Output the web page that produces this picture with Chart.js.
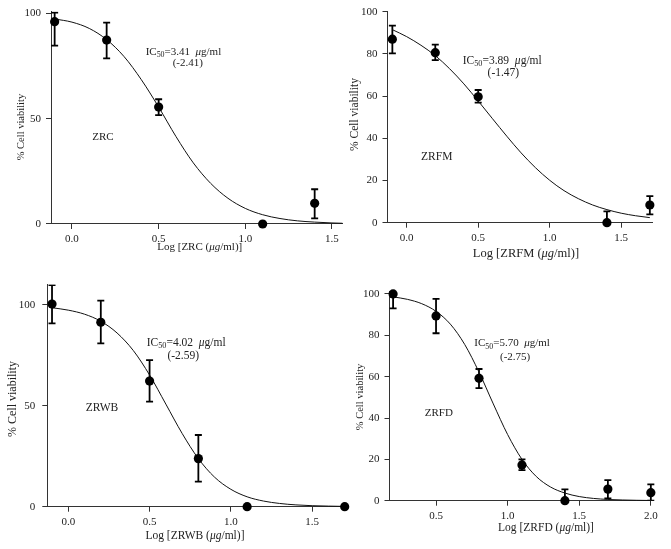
<!DOCTYPE html>
<html>
<head>
<meta charset="utf-8">
<script src="https://cdn.jsdelivr.net/npm/chart.js@4.4.1/dist/chart.umd.min.js"></script>
<style>
  html, body { margin: 0; padding: 0; background: #fff; }
  #wrap { position: relative; width: 671px; height: 549px; }
  #wrap canvas { position: absolute; left: 0; top: 0; }
</style>
</head>
<body>
<div id="wrap">
  <canvas id="zrc" width="671" height="549"></canvas>
  <canvas id="zrfm" width="671" height="549"></canvas>
  <canvas id="zrwb" width="671" height="549"></canvas>
  <canvas id="zrfd" width="671" height="549"></canvas>
</div>
<script>
// ---- data ----
// ZRC
var zrcX  = [-0.1, 0.2, 0.5, 1.1, 1.4];
var zrcY  = [96, 87.3, 55.5, 0, 9.8];
var zrcHi = [100.3, 95.6, 59.2, 0, 16.5];
var zrcLo = [84.7, 78.6, 51.7, 0, 2.7];
var zrcFitX = [-0.1, 0, 0.1, 0.2, 0.3, 0.4, 0.5, 0.6, 0.7, 0.8, 0.9, 1.0, 1.1, 1.2, 1.3, 1.4, 1.5, 1.56];
var zrcFitY = [97.3, 95.8, 92.8, 87.5, 79.5, 68.5, 55.5, 41.5, 29, 19.3, 12.2, 7.4, 4.4, 2.6, 1.5, 0.9, 0.5, 0.35];
var zrcIc = '3.41', zrcHill = '(-2.41)';

// ZRFM
var zrfmX  = [-0.1, 0.2, 0.5, 1.4, 1.7];
var zrfmY  = [87, 80.6, 59.7, 0, 8.4];
var zrfmHi = [93.4, 84.4, 62.9, 5.4, 12.6];
var zrfmLo = [80.3, 77.1, 56.9, -5.4, 3.9];
var zrfmFitX = [-0.1, 0, 0.1, 0.2, 0.3, 0.4, 0.5, 0.6, 0.7, 0.8, 0.9, 1.0, 1.1, 1.2, 1.3, 1.4, 1.5, 1.6, 1.7];
var zrfmFitY = [91.5, 88.2, 84.1, 79.2, 73, 65.8, 57.7, 49.3, 41, 33.1, 26.1, 20.1, 15.2, 11.4, 8.4, 6.2, 4.5, 3.3, 2.4];
var zrfmIc = '3.89', zrfmHill = '(-1.47)';

// ZRWB
var zrwbX  = [-0.1, 0.2, 0.5, 0.8, 1.1, 1.7];
var zrwbY  = [100.3, 91.3, 62.2, 23.8, 0, 0];
var zrwbHi = [109.7, 102, 72.6, 35.5, 0, 0];
var zrwbLo = [90.8, 80.9, 52, 12.4, 0, 0];
var zrwbFitX = [-0.1, 0, 0.1, 0.2, 0.3, 0.4, 0.5, 0.6, 0.7, 0.8, 0.9, 1.0, 1.1, 1.2, 1.3, 1.4, 1.5, 1.6, 1.7];
var zrwbFitY = [98.5, 97.3, 95.3, 91.8, 86, 77.3, 65.2, 50.8, 36.3, 23.8, 14.6, 8.6, 4.9, 2.8, 1.6, 0.9, 0.5, 0.3, 0.15];
var zrwbIc = '4.02', zrwbHill = '(-2.59)';

// ZRFD
var zrfdX  = [0.2, 0.5, 0.8, 1.1, 1.4, 1.7, 2.0];
var zrfdY  = [100, 89.4, 59.2, 17.3, 0, 5.6, 3.9];
var zrfdHi = [107, 97.6, 63.7, 20, 5.5, 10, 7.9];
var zrfdLo = [93, 81, 54.5, 14.8, -5.5, 1.1, 0];
var zrfdFitX = [0.2, 0.3, 0.4, 0.5, 0.6, 0.7, 0.8, 0.9, 1.0, 1.1, 1.2, 1.3, 1.4, 1.5, 1.6, 1.7, 1.8, 1.9, 2.0];
var zrfdFitY = [98.6, 97.4, 95.3, 91.6, 85.4, 75.6, 62.2, 46.8, 32, 20, 11.7, 6.6, 3.7, 2, 1.1, 0.6, 0.35, 0.2, 0.1];
var zrfdIc = '5.70', zrfdHill = '(-2.75)';

var xTicksA = [0, 0.5, 1.0, 1.5];
var xTicksB = [0.5, 1.0, 1.5, 2.0];
var yTicks50 = [0, 50, 100];
var yTicks20 = [0, 20, 40, 60, 80, 100];

// ---- drawing ----
var FAM = "'Liberation Serif', 'Times New Roman', serif";
var INK = '#222';

function rich(ctx, segs, x, y, size, align, rot) {
  function font(s) {
    return (s === 'i' ? 'italic ' : '') + (s === 'sub' ? size * 0.72 : size) + 'px ' + FAM;
  }
  var w = 0;
  segs.forEach(function (sg) { ctx.font = font(sg[1]); w += ctx.measureText(sg[0]).width; });
  ctx.save();
  ctx.translate(x, y);
  if (rot) ctx.rotate(rot);
  ctx.fillStyle = INK;
  ctx.textBaseline = 'middle';
  ctx.textAlign = 'left';
  var cx = align === 'center' ? -w / 2 : 0;
  segs.forEach(function (sg) {
    ctx.font = font(sg[1]);
    ctx.fillText(sg[0], cx, sg[1] === 'sub' ? size * 0.3 : 0);
    cx += ctx.measureText(sg[0]).width;
  });
  ctx.restore();
}

function makePanel(id, p) {
  var Wy = 40, Hx = 30;
  var pts = p.x.map(function (v, i) { return { x: v, y: p.y[i] }; });
  var fit = p.fitX.map(function (v, i) { return { x: v, y: p.fitY[i] }; });

  var extras = {
    id: 'extras_' + id,
    beforeDatasetsDraw: function (chart) {
      var ctx = chart.ctx, xs = chart.scales.x, ys = chart.scales.y, a = chart.chartArea;
      ctx.save();
      ctx.beginPath();
      ctx.rect(a.left - 10, a.top, a.right - a.left + 20, a.bottom - a.top);
      ctx.clip();
      ctx.strokeStyle = '#000';
      ctx.lineWidth = 1.8;
      p.x.forEach(function (v, i) {
        if (p.hi[i] === p.lo[i]) return;
        var px = xs.getPixelForValue(v);
        var y1 = ys.getPixelForValue(p.hi[i]), y2 = ys.getPixelForValue(p.lo[i]);
        ctx.beginPath();
        ctx.moveTo(px, y1); ctx.lineTo(px, y2);
        ctx.moveTo(px - 3.5, y1); ctx.lineTo(px + 3.5, y1);
        ctx.moveTo(px - 3.5, y2); ctx.lineTo(px + 3.5, y2);
        ctx.stroke();
      });
      ctx.restore();
    },
    afterDraw: function (chart) {
      var ctx = chart.ctx, xs = chart.scales.x, ys = chart.scales.y, a = chart.chartArea;
      rich(ctx, [['IC', ''], ['50', 'sub'], ['=' + p.ic + '  ', ''], ['\u03bc', 'i'], ['g/ml', '']],
        xs.getPixelForValue(p.icPos[0]), ys.getPixelForValue(p.icPos[1]), p.noteSize, 'left');
      rich(ctx, [[p.hill, '']],
        xs.getPixelForValue(p.hillPos[0]), ys.getPixelForValue(p.hillPos[1]), p.noteSize, 'center');
      rich(ctx, [[p.name, '']],
        xs.getPixelForValue(p.namePos[0]), ys.getPixelForValue(p.namePos[1]), p.noteSize, 'center');
      rich(ctx, [['Log [' + p.name + ' (', ''], ['\u03bcg', 'i'], ['/ml)]', '']],
        xs.getPixelForValue(p.xTitle[0]), a.bottom + p.xTitle[1], p.xTitleSize, 'center');
      rich(ctx, [['% Cell viability', '']],
        a.left - p.yTitle[0], ys.getPixelForValue(p.yTitle[1]), p.yTitleSize, 'center', -Math.PI / 2);
    }
  };

  function axis(min, max, ticks, fmt, pad, extra) {
    var o = {
      type: 'linear', min: min, max: max,
      afterBuildTicks: function (s) { s.ticks = ticks.map(function (v) { return { value: v }; }); },
      ticks: {
        autoSkip: false, maxRotation: 0, padding: pad, color: INK,
        font: { family: FAM, size: p.tickSize },
        callback: fmt
      },
      grid: { display: true, drawOnChartArea: false, drawTicks: true, tickLength: 5, color: '#333', lineWidth: 1 },
      border: { display: true, color: '#333', width: 1 }
    };
    for (var k in extra) o[k] = extra[k];
    return o;
  }

  new Chart(document.getElementById(id), {
    type: 'scatter',
    data: {
      datasets: [
        { data: pts, showLine: false, pointRadius: 4.6, pointHoverRadius: 4.6,
          pointBackgroundColor: '#000', pointBorderWidth: 0, clip: false },
        { data: fit, showLine: true, pointRadius: 0, borderColor: '#111', borderWidth: 1,
          cubicInterpolationMode: 'monotone', fill: false, clip: false }
      ]
    },
    options: {
      responsive: false,
      animation: false,
      events: [],
      layout: {
        autoPadding: false,
        padding: { left: p.area.l - Wy, right: 671 - p.area.r, top: p.area.t, bottom: 549 - p.area.b - Hx }
      },
      plugins: { legend: { display: false }, tooltip: { enabled: false } },
      scales: {
        x: axis(p.xMin, p.xMax, p.xTicks, function (v) { return Number(v).toFixed(1); }, p.xPad,
          { afterFit: function (s) { s.height = Hx; s.paddingLeft = 0; s.paddingRight = 0; } }),
        y: axis(0, p.yMax, p.yTicks, function (v) { return String(v); }, p.yPad,
          { afterFit: function (s) { s.width = Wy; s.paddingTop = 0; s.paddingBottom = 0; } })
      }
    },
    plugins: [extras]
  });
}

makePanel('zrc', {
  name: 'ZRC', x: zrcX, y: zrcY, hi: zrcHi, lo: zrcLo, fitX: zrcFitX, fitY: zrcFitY,
  ic: zrcIc, hill: zrcHill, xTicks: xTicksA, yTicks: yTicks50,
  xMin: -0.121, xMax: 1.56, yMax: 100.8,
  area: { l: 51, t: 11.6, r: 342.4, b: 224 },
  icPos: [0.425, 81.7], hillPos: [0.668, 76.2], namePos: [0.179, 41.4],
  xTitle: [0.737, 23], yTitle: [29.3, 46],
  tickSize: 11, noteSize: 11, xTitleSize: 11, yTitleSize: 10.5, xPad: 4, yPad: 5
});
makePanel('zrfm', {
  name: 'ZRFM', x: zrfmX, y: zrfmY, hi: zrfmHi, lo: zrfmLo, fitX: zrfmFitX, fitY: zrfmFitY,
  ic: zrfmIc, hill: zrfmHill, xTicks: xTicksA, yTicks: yTicks20,
  xMin: -0.134, xMax: 1.72, yMax: 100.3,
  area: { l: 387.5, t: 11.1, r: 652.7, b: 222.7 },
  icPos: [0.392, 76.8], hillPos: [0.676, 71.1], namePos: [0.21, 31.3],
  xTitle: [0.834, 30.6], yTitle: [32.5, 51.3],
  tickSize: 11, noteSize: 11.5, xTitleSize: 12.5, yTitleSize: 11.5, xPad: 4, yPad: 5
});
makePanel('zrwb', {
  name: 'ZRWB', x: zrwbX, y: zrwbY, hi: zrwbHi, lo: zrwbLo, fitX: zrwbFitX, fitY: zrwbFitY,
  ic: zrwbIc, hill: zrwbHill, xTicks: xTicksA, yTicks: yTicks50,
  xMin: -0.129, xMax: 1.7, yMax: 110,
  area: { l: 47.3, t: 284.5, r: 344.7, b: 506.7 },
  icPos: [0.482, 81.2], hillPos: [0.707, 74.6], namePos: [0.207, 48.7],
  xTitle: [0.779, 29], yTitle: [34, 53.3],
  tickSize: 11, noteSize: 11.5, xTitleSize: 11.5, yTitleSize: 12, xPad: 4, yPad: 7
});
makePanel('zrfd', {
  name: 'ZRFD', x: zrfdX, y: zrfdY, hi: zrfdHi, lo: zrfdLo, fitX: zrfdFitX, fitY: zrfdFitY,
  ic: zrfdIc, hill: zrfdHill, xTicks: xTicksB, yTicks: yTicks20,
  xMin: 0.175, xMax: 2.02, yMax: 101,
  area: { l: 389.5, t: 291.9, r: 653.7, b: 500.7 },
  icPos: [0.767, 76.1], hillPos: [1.052, 69.4], namePos: [0.519, 42.3],
  xTitle: [1.268, 27.6], yTitle: [29.5, 50.2],
  tickSize: 11, noteSize: 11, xTitleSize: 11.5, yTitleSize: 10.5, xPad: 4, yPad: 5
});
</script>
</body>
</html>
